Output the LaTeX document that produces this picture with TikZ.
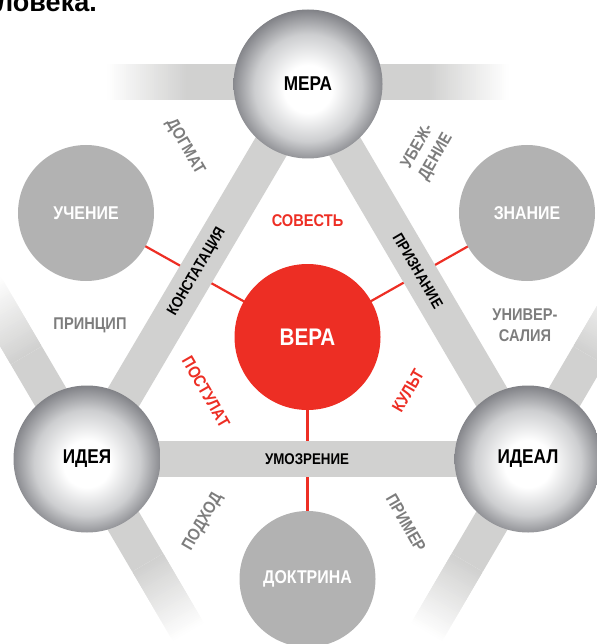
\documentclass[tikz,border=0pt]{standalone}
\usepackage{fontspec}
\setmainfont{Liberation Sans}[FakeStretch=0.86]
\newfontfamily\headfont{Liberation Sans}
\usetikzlibrary{calc}
\definecolor{barGray}{RGB}{209,209,208}
\definecolor{discGray}{RGB}{178,178,178}
\definecolor{veraRed}{RGB}{237,46,36}
\definecolor{labelGray}{RGB}{125,125,125}
\definecolor{sphereEdge}{RGB}{128,129,134}
\definecolor{sphereMid}{RGB}{205,206,208}
\pgfdeclareradialshading{sphereshade}{\pgfpoint{0bp}{-2bp}}{color(0bp)=(white); color(8bp)=(white); color(18bp)=(sphereMid); color(26bp)=(sphereEdge); color(50bp)=(sphereEdge)}
\pgfdeclarelayer{lines}
\pgfdeclarelayer{bars}
\pgfsetlayers{lines,bars,main}
\newcommand{\mkfadebar}[3]{%
  \draw[barGray, line width=36pt] (#1.center) -- ($(#1.center)+({120*(#2)},{120*(#3)})$);
  \foreach \i in {0,...,39}{
    \pgfmathsetmacro{\pct}{100-\i*2.5}
    \draw[line width=36pt, draw=barGray!\pct!white] ($(#1.center)+({(120+2*\i)*(#2)},{(120+2*\i)*(#3)})$) -- ($(#1.center)+({(122.6+2*\i)*(#2)},{(122.6+2*\i)*(#3)})$);
  }}
\tikzset{
  spherenode/.style={circle, minimum size=147pt, inner sep=0pt, shade, shading=sphereshade, text=black, font=\bfseries\fontsize{20}{20}\selectfont},
  discnode/.style={circle, minimum size=136pt, inner sep=0pt, fill=discGray, text=white, font=\bfseries\fontsize{18.5}{18.5}\selectfont},
  veranode/.style={circle, minimum size=146pt, inner sep=0pt, fill=veraRed, text=white, font=\bfseries\fontsize{24}{24}\selectfont},
  graylabel/.style={text=labelGray, inner sep=1pt, font=\bfseries\fontsize{17}{21}\selectfont},
  redlabel/.style={text=veraRed, inner sep=1pt, font=\bfseries\fontsize{17}{21}\selectfont},
  barlabel/.style={text=black, inner sep=1pt, font=\bfseries\fontsize{15.5}{18}\selectfont},
  redline/.style={draw=veraRed, line width=2.2pt},
  tribar/.style={draw=barGray, line width=36pt}
}
\begin{document}
\begin{tikzpicture}[x=1pt, y=-1pt]
\useasboundingbox (0,0) rectangle (596,644);
% heading fragment
\node[anchor=base west, inner sep=0pt, font=\headfont\bfseries\fontsize{27}{27}\selectfont] (head) at (-4,12) {ловека.};
% main circles
\node[spherenode, minimum size=149pt] (mera) at (308,84) {МЕРА};
\node[spherenode] (idea) at (87,459) {ИДЕЯ};
\node[spherenode] (ideal) at (528,459) {ИДЕАЛ};
\node[veranode] (vera) at (307.5,337) {ВЕРА};
\node[discnode] (uchenie) at (86,213) {УЧЕНИЕ};
\node[discnode] (znanie) at (527,213) {ЗНАНИЕ};
\node[discnode] (doktrina) at (307.5,579) {ДОКТРИНА};
% red connectors
\begin{pgfonlayer}{lines}
\draw[redline] (vera.center) -- (uchenie.center);
\draw[redline] (vera.center) -- (znanie.center);
\draw[redline] (vera.center) -- (doktrina.center);
\end{pgfonlayer}
% bars
\begin{pgfonlayer}{bars}
\coordinate (merabar) at ($(mera.center)+(0,-1.5)$);
\mkfadebar{merabar}{-1}{0}
\mkfadebar{merabar}{1}{0}
\mkfadebar{idea}{-0.506}{-0.863}
\mkfadebar{idea}{0.506}{0.863}
\mkfadebar{ideal}{0.506}{-0.863}
\mkfadebar{ideal}{-0.506}{0.863}
\draw[tribar] (mera.center) -- (idea.center);
\draw[tribar] (mera.center) -- (ideal.center);
\draw[tribar] (idea.center) -- (ideal.center);
\end{pgfonlayer}
% bar labels
\node[barlabel, rotate=59.6] (konst) at (197,272) {КОНСТАТАЦИЯ};
\node[barlabel, rotate=-59.6] (prizn) at (418,271) {ПРИЗНАНИЕ};
\node[barlabel] (umozr) at (307,459) {УМОЗРЕНИЕ};
% gray labels
\node[graylabel, rotate=-60] (dogmat) at (185,147) {ДОГМАТ};
\node[graylabel, rotate=60, align=center] (ubezh) at (427,152) {УБЕЖ-\\ДЕНИЕ};
\node[graylabel] (princip) at (90,325) {ПРИНЦИП};
\node[graylabel, align=center] (univer) at (525,325) {УНИВЕР-\\САЛИЯ};
\node[graylabel, rotate=60] (podhod) at (203,522) {ПОДХОД};
\node[graylabel, rotate=-60] (primer) at (406,523) {ПРИМЕР};
% red labels
\node[redlabel] (sovest) at (307.5,221) {СОВЕСТЬ};
\node[redlabel, rotate=-60] (postulat) at (206,392) {ПОСТУЛАТ};
\node[redlabel, rotate=60] (kult) at (408,391) {КУЛЬТ};
\end{tikzpicture}
\end{document}
